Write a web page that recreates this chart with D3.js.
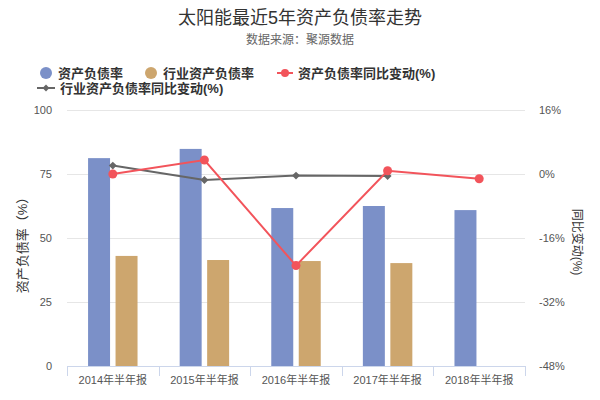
<!DOCTYPE html>
<html><head><meta charset="utf-8">
<script src="https://cdn.jsdelivr.net/npm/d3@7"></script>
<style>body{margin:0;background:#fff;} text{font-family:"Liberation Sans","Noto Sans CJK SC",sans-serif;}</style>
</head><body>
<svg id="c" width="600" height="400"></svg>
<script>
const categories = ["2014年半年报","2015年半年报","2016年半年报","2017年半年报","2018年半年报"];
const debtRatio = [81.2, 84.8, 61.7, 62.5, 60.9];
const industryDebtRatio = [43.0, 41.4, 41.0, 40.2, null];
const debtRatioYoY = [0.0, 3.5, -22.9, 0.8, -1.2];
const industryYoY = [2.1, -1.5, -0.4, -0.5, null];
const leftTicks = [0, 25, 50, 75, 100];
const rightTicks = [-48, -32, -16, 0, 16];

const svg = d3.select("#c");
const L = 67, R = 525, T = 110, B = 366;
const blue = "#7b90c8", tan = "#cda66e", red = "#f2545b", gray = "#666666";

const x0 = d3.scaleBand().domain(categories).range([L, R]);
const bw = x0.bandwidth();
const x1 = d3.scaleBand().domain(["a","b"]).range([0.2*bw, 0.8*bw]).paddingInner(0.2).paddingOuter(0.1);
const yL = d3.scaleLinear().domain([0, 100]).range([B, T]);
const yR = d3.scaleLinear().domain([-48, 16]).range([B, T]);

// title
svg.append("text").attr("x", 300).attr("y", 24).attr("text-anchor", "middle")
  .attr("font-size", 18).attr("fill", "#333").text("太阳能最近5年资产负债率走势");
svg.append("text").attr("x", 300).attr("y", 44).attr("text-anchor", "middle")
  .attr("font-size", 12).attr("fill", "#666").text("数据来源：聚源数据");

// gridlines
svg.append("g").selectAll("line").data(leftTicks.filter(d => d !== 0)).join("line")
  .attr("x1", L).attr("x2", R).attr("y1", d => yL(d)).attr("y2", d => yL(d))
  .attr("stroke", "#e6e6e6").attr("stroke-width", 1).attr("shape-rendering", "crispEdges");

// left axis labels
svg.append("g").selectAll("text").data(leftTicks).join("text")
  .attr("x", 52).attr("y", d => yL(d) + 4).attr("text-anchor", "end")
  .attr("font-size", 11).attr("fill", "#555").text(d => d);
// right axis labels
svg.append("g").selectAll("text").data(rightTicks).join("text")
  .attr("x", 539).attr("y", d => yR(d) + 4).attr("text-anchor", "start")
  .attr("font-size", 11).attr("fill", "#555").text(d => d + "%");

// axis titles
svg.append("text").attr("transform", "translate(27,242) rotate(-90)").attr("text-anchor", "middle")
  .attr("font-size", 13).attr("fill", "#333").text("资产负债率（%）");
svg.append("text").attr("transform", "translate(573,242) rotate(90)").attr("text-anchor", "middle")
  .attr("font-size", 12).attr("fill", "#333").text("同比变动(%)");

// bars
const bars = svg.append("g");
categories.forEach((c, i) => {
  if (debtRatio[i] != null)
    bars.append("rect").attr("x", x0(c) + x1("a")).attr("width", x1.bandwidth())
      .attr("y", yL(debtRatio[i])).attr("height", B - yL(debtRatio[i])).attr("fill", blue);
  if (industryDebtRatio[i] != null)
    bars.append("rect").attr("x", x0(c) + x1("b")).attr("width", x1.bandwidth())
      .attr("y", yL(industryDebtRatio[i])).attr("height", B - yL(industryDebtRatio[i])).attr("fill", tan);
});

// x axis
const xAxisG = svg.append("g");
xAxisG.append("line").attr("x1", L).attr("x2", R).attr("y1", B + 0.5).attr("y2", B + 0.5)
  .attr("stroke", "#ccd6eb");
const bounds = categories.map(c => x0(c)).concat([R]);
xAxisG.selectAll("line.t").data(bounds).join("line").attr("class", "t")
  .attr("x1", d => Math.round(d) + 0.5).attr("x2", d => Math.round(d) + 0.5)
  .attr("y1", B).attr("y2", B + 10).attr("stroke", "#ccd6eb");
xAxisG.selectAll("text").data(categories).join("text")
  .attr("x", d => x0(d) + bw / 2).attr("y", 384).attr("text-anchor", "middle")
  .attr("font-size", 11).attr("fill", "#555").text(d => d);

// lines
const cx = c => x0(c) + bw / 2;
function drawLine(vals, color, marker) {
  const pts = categories.map((c, i) => [cx(c), vals[i]]).filter(p => p[1] != null);
  svg.append("path").datum(pts)
    .attr("d", d3.line().x(p => p[0]).y(p => yR(p[1])))
    .attr("fill", "none").attr("stroke", color).attr("stroke-width", 2);
  const g = svg.append("g");
  pts.forEach(p => {
    if (marker === "circle")
      g.append("circle").attr("cx", p[0]).attr("cy", yR(p[1])).attr("r", 4.5).attr("fill", color);
    else
      g.append("path").attr("d", d3.symbol(d3.symbolDiamond2, 40)())
        .attr("transform", `translate(${p[0]},${yR(p[1])})`).attr("fill", color);
  });
}
drawLine(industryYoY, gray, "diamond");
drawLine(debtRatioYoY, red, "circle");

// legend
const lg = svg.append("g").attr("font-size", 13).attr("font-weight", "bold").attr("fill", "#333");
lg.append("circle").attr("cx", 46).attr("cy", 73).attr("r", 6).attr("fill", blue);
lg.append("text").attr("x", 58).attr("y", 77.5).text("资产负债率");
lg.append("circle").attr("cx", 151).attr("cy", 73).attr("r", 6).attr("fill", tan);
lg.append("text").attr("x", 163).attr("y", 77.5).text("行业资产负债率");
lg.append("line").attr("x1", 277).attr("x2", 293).attr("y1", 73).attr("y2", 73).attr("stroke", red).attr("stroke-width", 2);
lg.append("circle").attr("cx", 285).attr("cy", 73).attr("r", 4).attr("fill", red);
lg.append("text").attr("x", 298).attr("y", 77.5).text("资产负债率同比变动(%)");
lg.append("line").attr("x1", 37).attr("x2", 55).attr("y1", 88).attr("y2", 88).attr("stroke", gray).attr("stroke-width", 2);
lg.append("path").attr("d", d3.symbol(d3.symbolDiamond2, 30)()).attr("transform", "translate(46,88)").attr("fill", gray);
lg.append("text").attr("x", 60).attr("y", 92.5).text("行业资产负债率同比变动(%)");
</script>
</body></html>
